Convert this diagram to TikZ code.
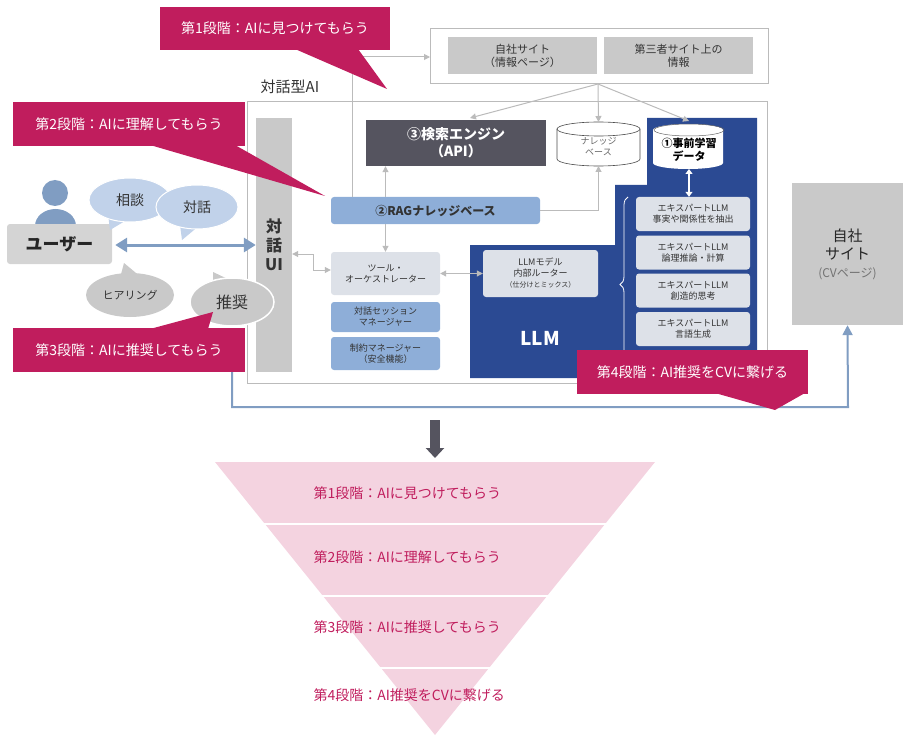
\documentclass[tikz,border=0pt]{standalone}
\usepackage{fontspec}
\setmainfont{Noto Sans CJK JP}
\usetikzlibrary{arrows.meta,shapes.geometric,decorations.pathreplacing}
\definecolor{mag}{HTML}{C01D5D}
\definecolor{llm}{HTML}{2B4A93}
\definecolor{lb}{HTML}{8EAED8}
\definecolor{lg}{HTML}{DDE1E8}
\definecolor{gr}{HTML}{C9C9C9}
\definecolor{dk}{HTML}{55545F}
\definecolor{pk}{HTML}{F4D3E0}
\definecolor{ln}{HTML}{BBBBBB}
\begin{document}
\begin{tikzpicture}[x=1pt,y=-1pt,
  call/.style={fill=mag,draw=none,text=white,font=\fontsize{14}{16}\selectfont},
  box/.style={draw=none,rounded corners=3pt,align=center,inner sep=0pt},
  gline/.style={draw=ln,line width=1pt},
  garr/.style={gline,-{Triangle[width=6pt,length=6pt]}},
  gdarr/.style={gline,{Triangle[width=6pt,length=6pt]}-{Triangle[width=6pt,length=6pt]}},
  small/.style={font=\fontsize{9}{11}\selectfont},
  exp/.style={box,fill=lg,minimum width=114pt,minimum height=34pt,small,text=black!80}]
\useasboundingbox (0,0) rectangle (911,741);
% top box
\draw[ln,line width=1pt] (430,29) rectangle (768,84);
\node[box,rounded corners=0,fill=gr,minimum width=149pt,minimum height=37pt,font=\fontsize{11}{13}\selectfont,text=black!80] (own) at (522.5,55.5) {自社サイト\\（情報ページ）};
\node[box,rounded corners=0,fill=gr,minimum width=149pt,minimum height=37pt,font=\fontsize{11}{13}\selectfont,text=black!80] (third) at (678.5,55.5) {第三者サイト上の\\情報};
\coordinate (tb) at (598,84);
\node[font=\fontsize{15}{17}\selectfont,text=black!80] (lbl) at (290,87) {対話型AI};
% main frame
\draw[ln,line width=1pt] (247,102) rectangle (767,383);
\node[box,rounded corners=0,fill=gr,minimum width=36pt,minimum height=254pt,font=\fontsize{16}{19}\selectfont\bfseries,text=black!80] (ui) at (274,245) {対\\話\\UI};
% LLM region
\fill[llm] (647,118) -- (757,118) -- (757,378) -- (470,378) -- (470,245) -- (615,245) -- (615,185) -- (647,185) -- cycle;
\node[font=\fontsize{19}{22}\selectfont\bfseries,text=white] (llmlbl) at (540,338) {LLM};
% search engine
\node[box,rounded corners=0,fill=dk,minimum width=180pt,minimum height=46pt,font=\fontsize{14}{17}\selectfont\bfseries,text=white] (se) at (456,143) {③検索エンジン\\（API）};
% cylinders
\draw[black!70,fill=white,line width=0.6pt] (557,129) -- (557,159) arc[start angle=180,end angle=0,x radius=41.5,y radius=7] -- (640,129);
\draw[black!70,fill=white,line width=0.6pt] (598.5,129) ellipse[x radius=41.5,y radius=7];
\node[box,small,text=black!60] (kb) at (598.5,147) {ナレッジ\\ベース};
\coordinate (kbt) at (598.5,122);
\coordinate (kbb) at (598.5,166);
\fill[white] (653,130) -- (653,163) arc[start angle=180,end angle=0,x radius=35,y radius=6] -- (723,130) arc[start angle=0,end angle=-180,x radius=35,y radius=6];
\draw[black!60,line width=0.5pt] (689,130) ellipse[x radius=35,y radius=6];
\node[box,font=\fontsize{11}{13}\selectfont\bfseries] (pre) at (689,150) {①事前学習\\データ};
\coordinate (preb) at (689,169);
\coordinate (pret) at (689,121);
% experts
\node[exp] (e1) at (693,214) {エキスパートLLM\\事実や関係性を抽出};
\node[exp] (e2) at (693,252.5) {エキスパートLLM\\論理推論・計算};
\node[exp] (e3) at (693,290.5) {エキスパートLLM\\創造的思考};
\node[exp] (e4) at (693,329) {エキスパートLLM\\言語生成};
\draw[white,line width=1.2pt,{Triangle[width=7pt,length=5pt]}-{Triangle[width=7pt,length=5pt]}] (preb) -- (e1.north-|preb);
\draw[white,line width=0.8pt,decorate,decoration={brace,amplitude=8pt,mirror}] (628,197) -- (628,372);
% router
\node[box,fill=lg,minimum width=115pt,minimum height=47pt,small,text=black!80] (rt) at (540.5,273.5) {LLMモデル\\内部ルーター\\{\fontsize{7}{9}\selectfont（仕分けとミックス）}};
% left column
\node[box,fill=lb,minimum width=209pt,minimum height=27pt,font=\fontsize{12}{14}\selectfont\bfseries,text=black!80] (rag) at (435.5,210.5) {②RAGナレッジベース};
\node[box,fill=lg,minimum width=109pt,minimum height=43pt,small,text=black!80] (tool) at (385.5,273.5) {ツール・\\オーケストレーター};
\node[box,fill=lb,minimum width=109pt,minimum height=30pt,small,text=black!80] (ses) at (385.5,317) {対話セッション\\マネージャー};
\node[box,fill=lb,minimum width=109pt,minimum height=33pt,small,text=black!80] (con) at (385.5,353.5) {制約マネージャー\\（安全機能）};
% gray connectors
\draw[garr] (rag.north-|tool) -- (se.south-|tool);
\draw[garr] (rag.south-|tool) -- (tool.north);
\draw[garr] (rag.east) -- (598.5,210.5) -- (kbb);
\draw[gdarr] (ui.east|-0,254) -- (313,254) -- (313,270) -- (tool.west|-0,270);
\draw[gdarr] (tool.east) -- (rt.west);
\draw[garr] (tb) -- (470,118);
\draw[garr] (tb) -- (kbt);
\draw[garr] (tb) -- (pret);
\draw[garr] (352,197) -- (352,57) -- (430,57);
% user
\fill[lb!90!black] (55,193) circle (13);
\fill[lb!90!black] (35,228) -- (35,226) arc[start angle=180,end angle=360,x radius=20.5,y radius=17] -- (76,228) -- cycle;
\node[box,fill=gr!80,minimum width=105pt,minimum height=40pt,font=\fontsize{17}{20}\selectfont\bfseries,text=black!85] (user) at (59.5,244) {ユーザー};
% bubbles
\fill[fill=lb!55] (108,214) -- (110,230) -- (130,218) -- cycle;
\node[ellipse,fill=lb!55,draw=white,line width=1pt,minimum width=82pt,minimum height=44pt,font=\fontsize{14}{16}\selectfont,text=black!80] (sd) at (130,200) {相談};
\fill[fill=lb!55] (180,225) -- (182,240) -- (200,225) -- cycle;
\node[ellipse,fill=lb!55,draw=white,line width=1pt,minimum width=82pt,minimum height=44pt,font=\fontsize{14}{16}\selectfont,text=black!80] (td) at (197,207) {対話};
\fill[fill=gr] (120,278) -- (124,263) -- (142,278) -- cycle;
\node[ellipse,fill=gr,draw=none,minimum width=88pt,minimum height=44pt,font=\fontsize{11}{13}\selectfont,text=black!80] (hr) at (130,295) {ヒアリング};
\fill[fill=gr] (213,284) -- (213,272) -- (232,281) -- cycle;
\node[ellipse,fill=gr,draw=white,line width=1.5pt,minimum width=84pt,minimum height=48pt,font=\fontsize{16}{18}\selectfont,text=black!80] (rc) at (232,302) {推奨};
\draw[lb!90!black,line width=3pt,{Triangle[width=14pt,length=12pt]}-{Triangle[width=14pt,length=12pt]}] (user.east) ++(3,1) -- (ui.west|-0,245);
% own site
\node[box,rounded corners=0,fill=gr,minimum width=111pt,minimum height=142pt,font=\fontsize{15}{18}\selectfont,text=black!85] (cv) at (847.5,254) {自社\\サイト\\{\fontsize{12}{14}\selectfont\color{black!55}(CVページ)}};
\coordinate (bl) at (232,372);
\draw[lb!90!black,line width=2pt,-{Triangle[width=10pt,length=10pt]}] (bl) -- (232,407) -- (848,407) -- (cv.south);
% callouts
\fill[mag] (295,49) -- (387,89) -- (358,49) -- cycle;
\node[call,minimum width=230pt,minimum height=43pt] (c1) at (275,28.5) {第1段階：AIに見つけてもらう};
\fill[mag] (150,145) -- (325,196) -- (235,145) -- cycle;
\node[call,minimum width=232pt,minimum height=44pt] (c2) at (129,124) {第2段階：AIに理解してもらう};
\fill[mag] (150,329) -- (213,312) -- (208,329) -- cycle;
\node[call,minimum width=232pt,minimum height=44pt] (c3) at (129,350) {第3段階：AIに推奨してもらう};
\fill[mag] (715,393) -- (775,410) -- (805,393) -- cycle;
\node[call,minimum width=231pt,minimum height=44pt] (c4) at (692.5,372) {第4段階：AI推奨をCVに繋げる};
% down arrow
\draw[dk,line width=10pt,-{Triangle[width=18pt,length=10pt]}] (435,420) -- (435,458);
% funnel
\fill[pk] (215,462) -- (655,462) -- (435,735) -- cycle;
\foreach \y in {524,596,668}{\draw[white,line width=2pt] (200,\y) -- (670,\y);}
\foreach \y/\t [count=\i] in {493/第1段階：AIに見つけてもらう,557/第2段階：AIに理解してもらう,627/第3段階：AIに推奨してもらう,695/第4段階：AI推奨をCVに繋げる}
  \node[anchor=west,text=mag,font=\fontsize{14}{16}\selectfont] (f\i) at (310,\y) {\t};
\end{tikzpicture}
\end{document}
